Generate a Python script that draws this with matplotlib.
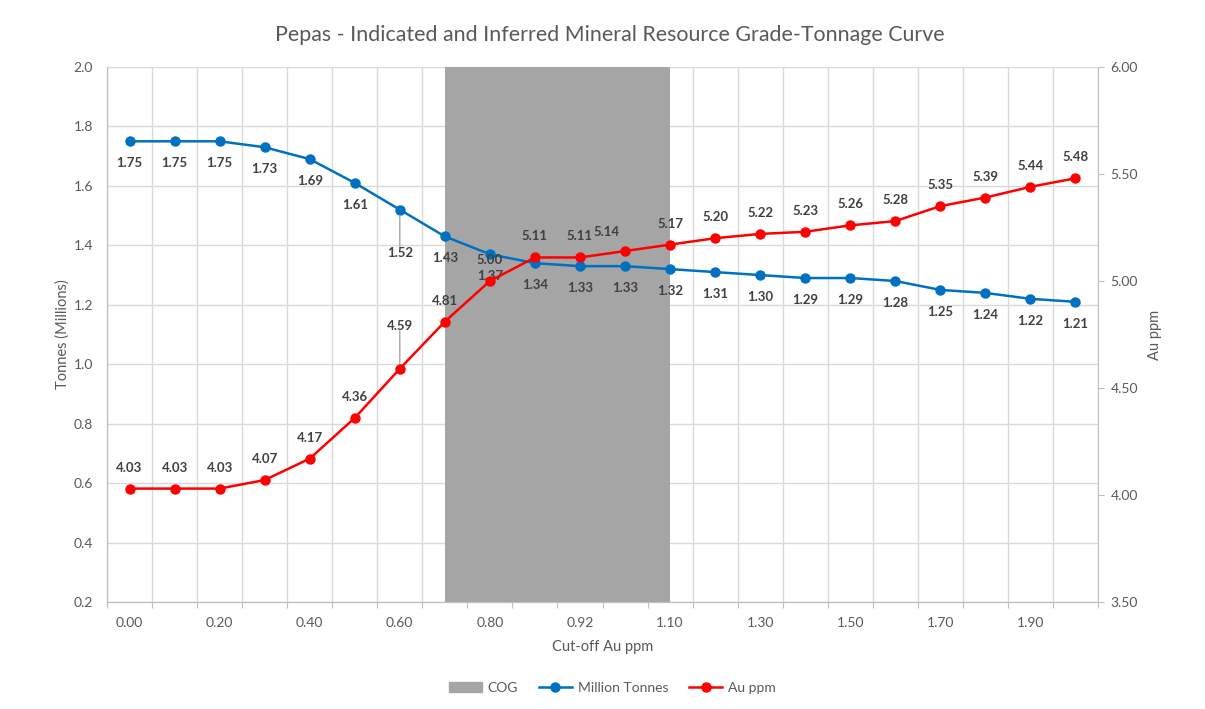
import numpy as np
import matplotlib
matplotlib.use("Agg")
import matplotlib.pyplot as plt
from matplotlib.patches import Patch
from matplotlib.lines import Line2D

plt.rcParams['font.family'] = ['Lato', 'DejaVu Sans']

# grade-tonnage table
cutoffs = [0.00, 0.10, 0.20, 0.30, 0.40, 0.50, 0.60, 0.70, 0.80, 0.90, 0.92,
           1.00, 1.10, 1.20, 1.30, 1.40, 1.50, 1.60, 1.70, 1.80, 1.90, 2.00]
tonnes = [1.75, 1.75, 1.75, 1.73, 1.69, 1.61, 1.52, 1.43, 1.37, 1.34, 1.33,
          1.33, 1.32, 1.31, 1.30, 1.29, 1.29, 1.28, 1.25, 1.24, 1.22, 1.21]
grade = [4.03, 4.03, 4.03, 4.07, 4.17, 4.36, 4.59, 4.81, 5.00, 5.11, 5.11,
         5.14, 5.17, 5.20, 5.22, 5.23, 5.26, 5.28, 5.35, 5.39, 5.44, 5.48]
# COG band (area series, blank outside the band)
cog = [np.nan] * 7 + [2.0] * 6 + [np.nan] * 9

BLUE = '#0070C0'
RED = '#FF0000'
GREY_TXT = '#595959'
LABEL_TXT = '#404040'
GRID = '#D9D9D9'

x = np.arange(len(cutoffs))

fig = plt.figure(figsize=(12.05, 7.09), dpi=100)
ax = fig.add_axes([107 / 1205, 1 - 602 / 709, 991 / 1205, 535 / 709])
ax2 = ax.twinx()

# grey cut-off band
ax.fill_between(x, 0, np.array(cog, dtype=float), color='#A5A5A5', lw=0, zorder=1)

ax.plot(x, tonnes, color=BLUE, lw=1.8, marker='o', ms=6.5, zorder=3)
ax2.plot(x, grade, color=RED, lw=1.8, marker='o', ms=6.5, zorder=3)

ax.set_xlim(-0.5, len(x) - 0.5)
ax.set_ylim(0.2, 2.0)
ax2.set_ylim(3.5, 6.0)

# gridlines / ticks on category boundaries, labels every other category
ax.set_xticks(np.arange(-0.5, len(x)))
ax.set_xticklabels([])
ax.set_xticks(x[::2], minor=True)
ax.set_xticklabels([f"{c:.2f}" for c in cutoffs[::2]], minor=True)
ax.tick_params(axis='x', which='major', length=4, color='#BFBFBF')
ax.tick_params(axis='x', which='minor', length=0, pad=11, labelsize=10, labelcolor=GREY_TXT)
ax.set_yticks(np.arange(0.2, 2.01, 0.2))
ax.set_yticklabels([f"{v:.1f}" for v in np.arange(0.2, 2.01, 0.2)])
ax.tick_params(axis='y', length=0, pad=10, labelsize=10, labelcolor=GREY_TXT)
ax2.set_yticks(np.arange(3.5, 6.01, 0.5))
ax2.set_yticklabels([f"{v:.2f}" for v in np.arange(3.5, 6.01, 0.5)])
ax2.tick_params(axis='y', length=4, color='#BFBFBF', pad=5, labelsize=10, labelcolor=GREY_TXT)

ax.grid(True, which='major', color=GRID, lw=1)
ax.set_axisbelow(True)

for a in (ax, ax2):
    a.spines['top'].set_visible(False)
    for s in ('left', 'right', 'bottom'):
        a.spines[s].set_color('#BFBFBF')
ax.spines['right'].set_visible(False)

ax.set_xlabel("Cut-off Au ppm", fontsize=10.5, color=GREY_TXT, labelpad=8)
ax.set_ylabel("Tonnes (Millions)", fontsize=10.5, color=GREY_TXT, labelpad=3)
ax2.set_ylabel("Au ppm", fontsize=10.5, color=GREY_TXT, labelpad=7)

fig.text(610 / 1205, 1 - 35 / 709, "Pepas - Indicated and Inferred Mineral Resource Grade-Tonnage Curve",
         ha='center', va='center', fontsize=15.4, color=GREY_TXT)

# data labels (offsets in pixels); the 0.60 labels sit further out with leader lines
lab_kw = dict(textcoords='offset pixels', ha='center', va='center',
              fontsize=9.5, fontweight='bold', color=LABEL_TXT, zorder=5)
leader = dict(arrowstyle='-', color='#A6A6A6', lw=1, shrinkA=0, shrinkB=4)
for i, v in enumerate(tonnes):
    dy = -43 if i == 6 else -22
    ax.annotate(f"{v:.2f}", (x[i], v), xytext=(0, dy), **lab_kw)
    if i == 6:
        ax.annotate("", (x[i], v), xytext=(0, -38), textcoords='offset pixels', arrowprops=leader)
for i, v in enumerate(grade):
    dx, dy = 0, 21
    if i == 6:
        dy = 43
    if i == 11:
        dx, dy = -18, 19
    ax2.annotate(f"{v:.2f}", (x[i], v), xytext=(dx, dy), **lab_kw)
    if i == 6:
        ax2.annotate("", (x[i], v), xytext=(0, 38), textcoords='offset pixels', arrowprops=leader)

handles = [Patch(color='#A5A5A5', label='COG'),
           Line2D([], [], color=BLUE, lw=1.8, marker='o', ms=6.5, label='Million Tonnes'),
           Line2D([], [], color=RED, lw=1.8, marker='o', ms=6.5, label='Au ppm')]
fig.legend(handles=handles, loc='center', bbox_to_anchor=(612 / 1205, 1 - 688 / 709), ncol=3,
           frameon=False, fontsize=10, labelcolor=GREY_TXT, handlelength=2.4,
           handleheight=0.7, columnspacing=1.5, handletextpad=0.4)

fig.savefig("out.png", dpi=100)
plt.close('all')
